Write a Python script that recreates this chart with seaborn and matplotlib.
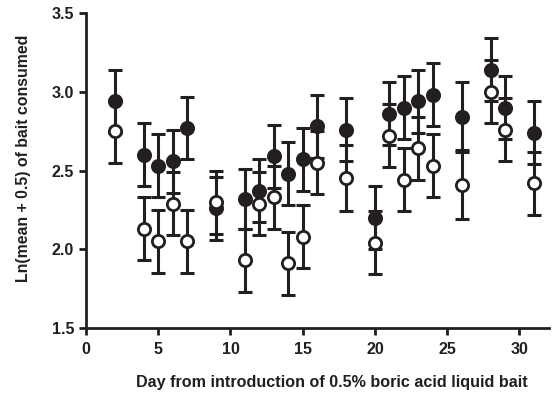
import matplotlib
matplotlib.use("Agg")
import matplotlib.pyplot as plt
import numpy as np
import pandas as pd
import seaborn as sns

# days after the bait went in
days = [2, 4, 5, 6, 7, 9, 11, 12, 13, 14, 15, 16, 18, 20, 21, 22, 23, 24, 26, 28, 29, 31]

# filled circles
filled_mean = [2.94, 2.60, 2.53, 2.56, 2.77, 2.26, 2.32, 2.37, 2.59, 2.48, 2.57,
               2.78, 2.76, 2.20, 2.86, 2.90, 2.94, 2.98, 2.84, 3.14, 2.90, 2.74]
filled_err = [0.20, 0.20, 0.20, 0.20, 0.20, 0.20, 0.19, 0.20, 0.20, 0.20, 0.20,
              0.20, 0.20, 0.20, 0.20, 0.20, 0.20, 0.20, 0.22, 0.20, 0.20, 0.20]

# open circles
open_mean = [2.75, 2.13, 2.05, 2.29, 2.05, 2.30, 1.93, 2.29, 2.33, 1.91, 2.08,
             2.55, 2.45, 2.04, 2.72, 2.44, 2.64, 2.53, 2.41, 3.00, 2.76, 2.42]
open_err = [0.20, 0.20, 0.20, 0.20, 0.20, 0.20, 0.20, 0.20, 0.20, 0.20, 0.20,
            0.20, 0.21, 0.20, 0.20, 0.20, 0.20, 0.20, 0.22, 0.20, 0.20, 0.20]

x_ticks = [0, 5, 10, 15, 20, 25, 30]
y_ticks = [1.5, 2.0, 2.5, 3.0, 3.5]

ink = "#231f20"

sns.set_style("ticks")
plt.rcParams["font.family"] = ["Liberation Sans", "DejaVu Sans"]
plt.rcParams["font.weight"] = "bold"

df = pd.DataFrame({
    "day": days * 2,
    "mean": filled_mean + open_mean,
    "err": filled_err + open_err,
    "group": ["filled"] * len(days) + ["open"] * len(days),
})

fig = plt.figure(figsize=(5.54, 3.95), dpi=100)
ax = fig.add_axes([0.1552, 0.1696, 0.991 - 0.1552, 0.967 - 0.1696])

for grp, face, z in [("filled", ink, 3), ("open", "white", 5)]:
    sub = df[df["group"] == grp]
    ax.errorbar(sub["day"], sub["mean"], yerr=sub["err"], fmt="none",
                ecolor=ink, elinewidth=2.2, capsize=5, capthick=2.2, zorder=z - 1)
    sns.scatterplot(data=sub, x="day", y="mean", ax=ax, marker="o", s=78,
                    color=face, edgecolor=ink, linewidth=2.0, zorder=z, legend=False)

ax.set_xlim(0, 32.05)
ax.set_ylim(1.5, 3.5)
ax.set_xticks(x_ticks)
ax.set_yticks(y_ticks)
ax.set_yticklabels([f"{v:.1f}" for v in y_ticks])

ax.set_xlabel("Day from introduction of 0.5% boric acid liquid bait",
              fontsize=11.6, fontweight="bold", color=ink)
ax.set_ylabel("Ln(mean + 0.5) of bait consumed",
              fontsize=11.4, fontweight="bold", color=ink, labelpad=15)
ax.xaxis.set_label_coords(0.531, -0.148)
ax.yaxis.label.set_y(0.538)

sns.despine(ax=ax)
for side in ["left", "bottom"]:
    ax.spines[side].set_linewidth(2.0)
    ax.spines[side].set_color(ink)
ax.tick_params(axis="both", direction="out", length=5, width=2.0, color=ink,
               labelsize=11.6, labelcolor=ink)
ax.tick_params(axis="x", pad=5)
ax.tick_params(axis="y", pad=3.5)
for lab in ax.get_xticklabels() + ax.get_yticklabels():
    lab.set_fontweight("bold")

fig.savefig("out.png", dpi=100)
